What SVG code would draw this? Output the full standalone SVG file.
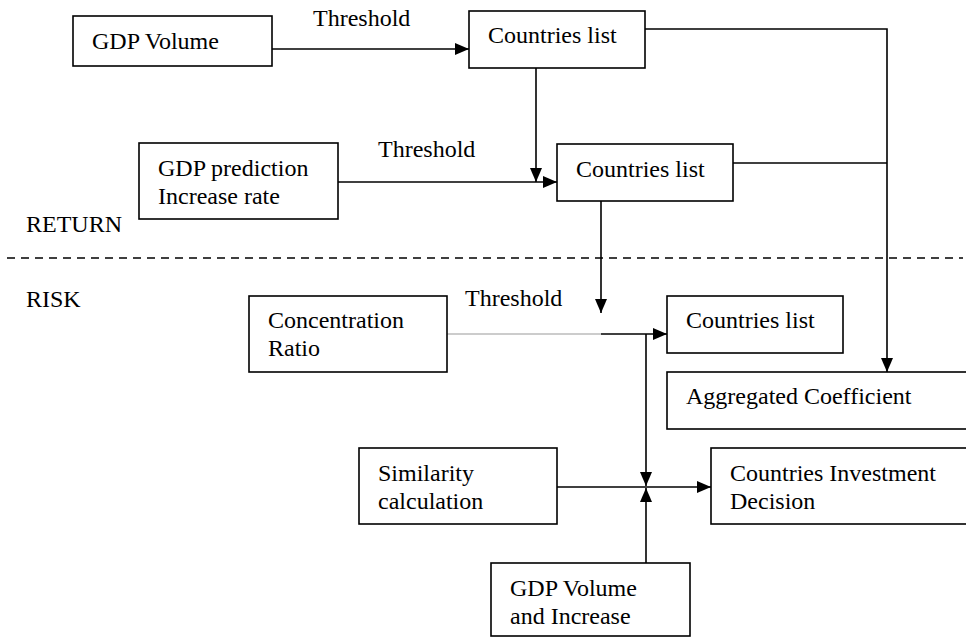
<svg xmlns="http://www.w3.org/2000/svg" width="966" height="639" viewBox="0 0 966 639">
<style>
.box{fill:#fff;stroke:#000;stroke-width:1.6}
.t{font-family:"Liberation Serif","Times New Roman",serif;font-size:24px;fill:#000}
.c{fill:none;stroke:#000;stroke-width:1.6}
.g{fill:none;stroke:#999;stroke-width:1}
</style>
<defs>
<marker id="ah" markerWidth="14" markerHeight="12" refX="14" refY="6" orient="auto" markerUnits="userSpaceOnUse">
<path d="M0,0 L14,6 L0,12 Z" fill="#000"/>
</marker>
</defs>
<rect width="966" height="639" fill="#fff"/>
<g id="connectors">
<path class="c" d="M272,49 H469" marker-end="url(#ah)"/>
<path class="c" d="M645,29 H887 V372" marker-end="url(#ah)"/>
<path class="c" d="M536,68 V182" marker-end="url(#ah)"/>
<path class="c" d="M338,182 H557" marker-end="url(#ah)"/>
<path class="c" d="M733,163 H887"/>
<path class="c" d="M601,201 V313" marker-end="url(#ah)"/>
<path class="g" d="M447,334 H601"/>
<path class="c" d="M601,334 H667" marker-end="url(#ah)"/>
<path class="c" d="M646,334 V486" marker-end="url(#ah)"/>
<path class="c" d="M557,487 H711" marker-end="url(#ah)"/>
<path class="c" d="M646,563 V488" marker-end="url(#ah)"/>
<path d="M7,258 H963" fill="none" stroke="#000" stroke-width="1.3" stroke-dasharray="8,6"/>
</g>
<g id="labels">
<text class="t" x="313" y="26">Threshold</text>
<text class="t" x="378" y="157">Threshold</text>
<text class="t" x="465" y="306">Threshold</text>
<text class="t" x="26" y="232">RETURN</text>
<text class="t" x="26" y="307">RISK</text>
</g>
<g id="gdp-volume"><rect class="box" x="73" y="16" width="199" height="50"/><text class="t" x="92" y="49">GDP Volume</text></g>
<g id="countries-list-1"><rect class="box" x="469" y="11" width="176" height="57"/><text class="t" x="488" y="43">Countries list</text></g>
<g id="gdp-prediction"><rect class="box" x="139" y="143" width="199" height="76"/><text class="t" x="158" y="176">GDP prediction</text><text class="t" x="158" y="204">Increase rate</text></g>
<g id="countries-list-2"><rect class="box" x="557" y="144" width="176" height="57"/><text class="t" x="576" y="177">Countries list</text></g>
<g id="concentration-ratio"><rect class="box" x="249" y="296" width="198" height="76"/><text class="t" x="268" y="328">Concentration</text><text class="t" x="268" y="356">Ratio</text></g>
<g id="countries-list-3"><rect class="box" x="667" y="296" width="176" height="57"/><text class="t" x="686" y="328">Countries list</text></g>
<g id="aggregated-coefficient"><rect class="box" x="667" y="372" width="310" height="57"/><text class="t" x="686" y="404">Aggregated Coefficient</text></g>
<g id="similarity-calculation"><rect class="box" x="359" y="448" width="198" height="76"/><text class="t" x="378" y="481">Similarity</text><text class="t" x="378" y="509">calculation</text></g>
<g id="countries-investment-decision"><rect class="box" x="711" y="448" width="266" height="76"/><text class="t" x="730" y="481">Countries Investment</text><text class="t" x="730" y="509">Decision</text></g>
<g id="gdp-volume-increase"><rect class="box" x="491" y="563" width="199" height="73"/><text class="t" x="510" y="596">GDP Volume</text><text class="t" x="510" y="624">and Increase</text></g>
</svg>
